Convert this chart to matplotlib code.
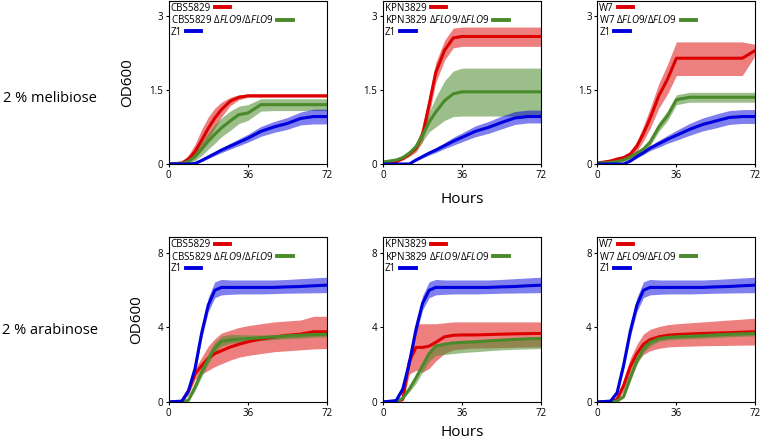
import numpy as np
import matplotlib
matplotlib.use("Agg")
import matplotlib.pyplot as plt

plt.rcParams['font.family'] = ['Open Sans', 'DejaVu Sans']
plt.rcParams['mathtext.fontset'] = 'custom'
plt.rcParams['mathtext.rm'] = 'Open Sans'
plt.rcParams['mathtext.it'] = 'Open Sans:italic'

hours = [0, 6, 9, 12, 15, 18, 21, 24, 28, 32, 36, 42, 48, 54, 60, 66, 72]

# ---- 2 % melibiose ----
mel_cbs = [0, 0.02, 0.1, 0.25, 0.48, 0.72, 0.93, 1.1, 1.27, 1.35, 1.38, 1.38, 1.38, 1.38, 1.38, 1.38, 1.38]
mel_cbs_lo = [0, 0.0, 0.04, 0.12, 0.28, 0.5, 0.72, 0.95, 1.18, 1.3, 1.35, 1.35, 1.35, 1.35, 1.35, 1.35, 1.35]
mel_cbs_hi = [0.01, 0.05, 0.18, 0.4, 0.7, 0.95, 1.13, 1.25, 1.35, 1.4, 1.41, 1.41, 1.41, 1.41, 1.41, 1.41, 1.41]
mel_cbs_d = [0, 0.01, 0.05, 0.15, 0.3, 0.46, 0.6, 0.73, 0.87, 1.0, 1.03, 1.2, 1.2, 1.2, 1.2, 1.2, 1.2]
mel_cbs_d_lo = [0, 0.0, 0.02, 0.07, 0.17, 0.3, 0.42, 0.55, 0.68, 0.82, 0.88, 1.07, 1.08, 1.08, 1.08, 1.08, 1.08]
mel_cbs_d_hi = [0.01, 0.03, 0.1, 0.25, 0.45, 0.63, 0.8, 0.93, 1.07, 1.17, 1.2, 1.32, 1.32, 1.32, 1.32, 1.32, 1.32]
mel_z1_a = [0, 0, 0, 0.01, 0.07, 0.14, 0.21, 0.28, 0.36, 0.44, 0.52, 0.66, 0.75, 0.82, 0.92, 0.96, 0.96]
mel_z1_a_lo = [0, 0, 0, 0, 0.05, 0.11, 0.17, 0.23, 0.3, 0.37, 0.44, 0.56, 0.64, 0.7, 0.79, 0.81, 0.81]
mel_z1_a_hi = [0, 0, 0, 0.02, 0.09, 0.17, 0.25, 0.33, 0.42, 0.51, 0.6, 0.76, 0.86, 0.94, 1.05, 1.11, 1.11]

mel_kpn = [0.01, 0.05, 0.11, 0.2, 0.32, 0.6, 1.2, 1.85, 2.3, 2.55, 2.58, 2.58, 2.58, 2.58, 2.58, 2.58, 2.58]
mel_kpn_lo = [0, 0.03, 0.08, 0.15, 0.24, 0.45, 1.0, 1.65, 2.1, 2.35, 2.38, 2.38, 2.38, 2.38, 2.38, 2.38, 2.38]
mel_kpn_hi = [0.02, 0.07, 0.14, 0.25, 0.4, 0.75, 1.4, 2.05, 2.5, 2.75, 2.77, 2.77, 2.77, 2.77, 2.77, 2.77, 2.77]
mel_kpn_d = [0.04, 0.08, 0.13, 0.22, 0.35, 0.58, 0.85, 1.05, 1.28, 1.42, 1.46, 1.46, 1.46, 1.46, 1.46, 1.46, 1.46]
mel_kpn_d_lo = [0.02, 0.05, 0.09, 0.17, 0.28, 0.46, 0.65, 0.75, 0.88, 0.96, 0.97, 0.97, 0.97, 0.97, 0.97, 0.97, 0.97]
mel_kpn_d_hi = [0.06, 0.11, 0.17, 0.27, 0.42, 0.7, 1.05, 1.35, 1.68, 1.88, 1.94, 1.94, 1.94, 1.94, 1.94, 1.94, 1.94]
mel_z1_b = [0, 0, 0, 0, 0.08, 0.15, 0.22, 0.28, 0.37, 0.46, 0.54, 0.66, 0.74, 0.84, 0.93, 0.96, 0.96]
mel_z1_b_lo = [0, 0, 0, 0, 0.06, 0.12, 0.18, 0.23, 0.31, 0.38, 0.45, 0.55, 0.62, 0.71, 0.8, 0.83, 0.83]
mel_z1_b_hi = [0, 0, 0, 0.01, 0.1, 0.18, 0.26, 0.33, 0.43, 0.54, 0.63, 0.77, 0.86, 0.97, 1.06, 1.09, 1.09]

mel_w7 = [0.02, 0.06, 0.1, 0.13, 0.2, 0.36, 0.62, 0.92, 1.38, 1.72, 2.14, 2.14, 2.14, 2.14, 2.14, 2.14, 2.3]
mel_w7_lo = [0.01, 0.04, 0.07, 0.09, 0.14, 0.26, 0.47, 0.72, 1.13, 1.42, 1.79, 1.79, 1.79, 1.79, 1.79, 1.79, 2.2]
mel_w7_hi = [0.03, 0.08, 0.13, 0.17, 0.26, 0.46, 0.77, 1.12, 1.63, 2.02, 2.47, 2.47, 2.47, 2.47, 2.47, 2.47, 2.42]
mel_w7_d = [0.02, 0.03, 0.05, 0.08, 0.14, 0.22, 0.3, 0.44, 0.75, 0.98, 1.3, 1.35, 1.35, 1.35, 1.35, 1.35, 1.35]
mel_w7_d_lo = [0.01, 0.02, 0.04, 0.06, 0.11, 0.18, 0.25, 0.37, 0.66, 0.88, 1.2, 1.25, 1.25, 1.25, 1.25, 1.25, 1.25]
mel_w7_d_hi = [0.03, 0.04, 0.06, 0.1, 0.17, 0.26, 0.35, 0.51, 0.84, 1.08, 1.4, 1.45, 1.45, 1.45, 1.45, 1.45, 1.45]
mel_z1_c = [0, 0, 0, 0, 0.06, 0.15, 0.23, 0.32, 0.41, 0.5, 0.58, 0.7, 0.8, 0.87, 0.94, 0.96, 0.96]
mel_z1_c_lo = [0, 0, 0, 0, 0.04, 0.12, 0.19, 0.27, 0.34, 0.42, 0.48, 0.58, 0.67, 0.73, 0.8, 0.82, 0.82]
mel_z1_c_hi = [0, 0, 0, 0.01, 0.08, 0.18, 0.27, 0.37, 0.48, 0.58, 0.68, 0.82, 0.93, 1.01, 1.08, 1.1, 1.1]

# ---- 2 % arabinose ----
ara_cbs = [0, 0.03, 0.6, 1.5, 1.95, 2.35, 2.6, 2.75, 2.95, 3.1, 3.23, 3.38, 3.48, 3.58, 3.64, 3.77, 3.77]
ara_cbs_lo = [0, 0.02, 0.4, 1.2, 1.5, 1.7, 1.9, 2.05, 2.25, 2.4, 2.5, 2.6, 2.7, 2.75, 2.8, 2.85, 2.87]
ara_cbs_hi = [0, 0.04, 0.8, 1.8, 2.4, 3.0, 3.4, 3.7, 3.85, 4.0, 4.1, 4.2, 4.3, 4.35, 4.4, 4.6, 4.6]
ara_cbs_d = [0, 0.01, 0.1, 0.8, 1.6, 2.3, 2.9, 3.25, 3.33, 3.37, 3.4, 3.45, 3.5, 3.55, 3.58, 3.62, 3.64]
ara_cbs_d_lo = [0, 0.0, 0.05, 0.6, 1.35, 2.05, 2.65, 3.0, 3.15, 3.2, 3.25, 3.3, 3.35, 3.4, 3.43, 3.47, 3.5]
ara_cbs_d_hi = [0, 0.02, 0.15, 1.0, 1.85, 2.6, 3.2, 3.55, 3.62, 3.62, 3.6, 3.6, 3.62, 3.66, 3.7, 3.74, 3.76]
ara_z1_a = [0, 0.05, 0.6, 1.8, 3.7, 5.2, 6.0, 6.15, 6.15, 6.15, 6.15, 6.15, 6.15, 6.18, 6.2, 6.24, 6.27]
ara_z1_a_lo = [0, 0.03, 0.45, 1.55, 3.4, 4.85, 5.6, 5.75, 5.78, 5.8, 5.8, 5.8, 5.82, 5.84, 5.85, 5.86, 5.87]
ara_z1_a_hi = [0, 0.07, 0.75, 2.1, 4.0, 5.6, 6.45, 6.58, 6.55, 6.55, 6.55, 6.55, 6.55, 6.58, 6.62, 6.66, 6.7]

ara_kpn = [0, 0.02, 0.15, 2.2, 2.93, 2.93, 3.0, 3.2, 3.5, 3.58, 3.6, 3.6, 3.62, 3.64, 3.66, 3.67, 3.68]
ara_kpn_lo = [0, 0.01, 0.05, 1.5, 1.7, 1.6, 1.8, 2.2, 2.6, 2.8, 2.85, 2.9, 2.9, 2.92, 2.94, 2.95, 2.96]
ara_kpn_hi = [0, 0.03, 0.3, 2.6, 4.2, 4.2, 4.2, 4.2, 4.25, 4.3, 4.3, 4.3, 4.3, 4.3, 4.3, 4.3, 4.3]
ara_kpn_d = [0, 0.02, 0.2, 0.7, 1.3, 1.95, 2.6, 3.0, 3.1, 3.17, 3.2, 3.23, 3.28, 3.32, 3.36, 3.39, 3.41]
ara_kpn_d_lo = [0, 0.01, 0.15, 0.55, 1.0, 1.6, 2.2, 2.5, 2.55, 2.6, 2.65, 2.7, 2.75, 2.8, 2.83, 2.85, 2.87]
ara_kpn_d_hi = [0, 0.03, 0.25, 0.8, 1.4, 2.05, 2.7, 3.1, 3.2, 3.27, 3.3, 3.33, 3.38, 3.42, 3.46, 3.49, 3.51]
ara_z1_b = [0, 0.08, 0.7, 2.1, 3.9, 5.3, 6.0, 6.15, 6.15, 6.15, 6.15, 6.15, 6.15, 6.18, 6.2, 6.24, 6.27]
ara_z1_b_lo = [0, 0.05, 0.55, 1.85, 3.6, 4.95, 5.6, 5.75, 5.78, 5.8, 5.8, 5.8, 5.82, 5.84, 5.85, 5.86, 5.87]
ara_z1_b_hi = [0, 0.1, 0.85, 2.4, 4.2, 5.7, 6.45, 6.58, 6.55, 6.55, 6.55, 6.55, 6.55, 6.58, 6.62, 6.66, 6.7]

ara_w7 = [0, 0.02, 0.15, 0.9, 1.9, 2.6, 3.1, 3.35, 3.5, 3.58, 3.62, 3.65, 3.68, 3.7, 3.72, 3.75, 3.77]
ara_w7_lo = [0, 0.01, 0.08, 0.6, 1.5, 2.15, 2.55, 2.75, 2.88, 2.95, 2.98, 3.0, 3.02, 3.03, 3.04, 3.05, 3.06]
ara_w7_hi = [0, 0.03, 0.25, 1.25, 2.35, 3.1, 3.65, 3.9, 4.05, 4.15, 4.2, 4.25, 4.3, 4.35, 4.4, 4.45, 4.5]
ara_w7_d = [0, 0, 0.05, 0.3, 1.3, 2.2, 2.85, 3.2, 3.4, 3.47, 3.5, 3.53, 3.56, 3.6, 3.63, 3.66, 3.68]
ara_w7_d_lo = [0, 0, 0.02, 0.2, 1.1, 2.0, 2.65, 3.0, 3.25, 3.33, 3.37, 3.4, 3.43, 3.47, 3.5, 3.53, 3.55]
ara_w7_d_hi = [0, 0.01, 0.08, 0.45, 1.5, 2.4, 3.05, 3.38, 3.52, 3.58, 3.61, 3.64, 3.67, 3.71, 3.74, 3.77, 3.8]
ara_z1_c = [0, 0.05, 0.5, 2.0, 3.8, 5.2, 6.0, 6.15, 6.15, 6.15, 6.15, 6.15, 6.15, 6.18, 6.2, 6.24, 6.27]
ara_z1_c_lo = [0, 0.03, 0.38, 1.75, 3.5, 4.85, 5.6, 5.75, 5.78, 5.8, 5.8, 5.8, 5.82, 5.84, 5.85, 5.86, 5.87]
ara_z1_c_hi = [0, 0.07, 0.65, 2.3, 4.1, 5.6, 6.45, 6.58, 6.55, 6.55, 6.55, 6.55, 6.55, 6.58, 6.62, 6.66, 6.7]

parents = ['CBS5829', 'KPN3829', 'W7']
row_labels = ['2 % melibiose', '2 % arabinose']

panels = [
    [(mel_cbs, mel_cbs_lo, mel_cbs_hi), (mel_cbs_d, mel_cbs_d_lo, mel_cbs_d_hi), (mel_z1_a, mel_z1_a_lo, mel_z1_a_hi)],
    [(mel_kpn, mel_kpn_lo, mel_kpn_hi), (mel_kpn_d, mel_kpn_d_lo, mel_kpn_d_hi), (mel_z1_b, mel_z1_b_lo, mel_z1_b_hi)],
    [(mel_w7, mel_w7_lo, mel_w7_hi), (mel_w7_d, mel_w7_d_lo, mel_w7_d_hi), (mel_z1_c, mel_z1_c_lo, mel_z1_c_hi)],
    [(ara_cbs, ara_cbs_lo, ara_cbs_hi), (ara_cbs_d, ara_cbs_d_lo, ara_cbs_d_hi), (ara_z1_a, ara_z1_a_lo, ara_z1_a_hi)],
    [(ara_kpn, ara_kpn_lo, ara_kpn_hi), (ara_kpn_d, ara_kpn_d_lo, ara_kpn_d_hi), (ara_z1_b, ara_z1_b_lo, ara_z1_b_hi)],
    [(ara_w7, ara_w7_lo, ara_w7_hi), (ara_w7_d, ara_w7_d_lo, ara_w7_d_hi), (ara_z1_c, ara_z1_c_lo, ara_z1_c_hi)],
]

colors = ['#dd0000', '#4a8a2a', '#0000dd']
band_alpha = [0.5, 0.55, 0.5]

fig = plt.figure(figsize=(7.6, 4.42), dpi=100)
lefts = [0.222, 0.504, 0.786]
# bottom, height, ymax, yticks, yticklabels, row label y, xlabel pad
rows = [(0.629, 0.369, 3.3, [0, 1.5, 3], ['0', '1.5', '3'], 0.778, 8),
        (0.0905, 0.373, 8.85, [0, 4, 8], ['0', '4', '8'], 0.253, 5)]

for r, (bottom, height, ymax, yt, ytl, label_y, xpad) in enumerate(rows):
    for c, left in enumerate(lefts):
        ax = fig.add_axes([left, bottom, 0.208, height])
        series = panels[r * 3 + c]
        labels = [parents[c], parents[c] + r' $\mathit{ΔFLO9/ΔFLO9}$', 'Z1']
        for (m, lo, hi), col, a in zip(series, colors, band_alpha):
            ax.fill_between(hours, lo, hi, color=col, alpha=a, linewidth=0)
        for (m, lo, hi), col, lab in zip(series, colors, labels):
            ax.plot(hours, m, color=col, lw=2.2, label=lab)
        ax.set_xlim(0, 72)
        ax.set_ylim(0, ymax)
        ax.set_xticks([0, 36, 72])
        ax.set_yticks(yt)
        ax.set_yticklabels(ytl)
        ax.tick_params(labelsize=7, length=2.5, width=0.8, pad=1.5)
        for s in ax.spines.values():
            s.set_linewidth(0.8)
        leg = ax.legend(loc='upper left', markerfirst=False, frameon=False, fontsize=7,
                        handlelength=1.6, handletextpad=0.4, labelspacing=0.05,
                        borderaxespad=0.1, borderpad=0.1)
        for ln in leg.get_lines():
            ln.set_linewidth(2.8)
        for col_box in leg._legend_handle_box.get_children():
            col_box.align = 'left'
        if c == 0:
            ax.set_ylabel('OD600', fontsize=11, labelpad=10)
        if c == 1:
            ax.set_xlabel('Hours', fontsize=11, labelpad=xpad)
    fig.text(0.066, label_y, row_labels[r], fontsize=10.5, ha='center', va='center')

fig.savefig('out.png', dpi=100)
